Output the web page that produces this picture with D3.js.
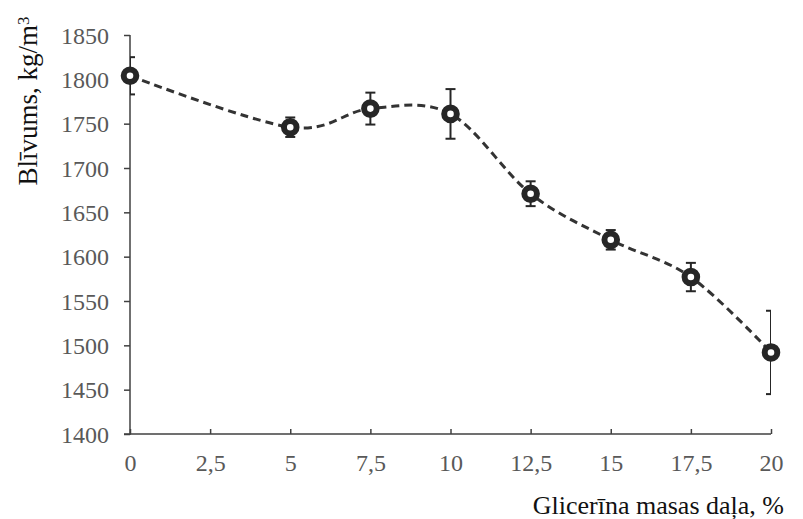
<!DOCTYPE html>
<html>
<head>
<meta charset="utf-8">
<script src="https://cdn.jsdelivr.net/npm/d3@7"></script>
<style>
  body { margin: 0; background: #fff; }
  svg { display: block; font-family: "Liberation Serif", "Times New Roman", serif; }
  .tick-label { fill: #595959; font-size: 24px; }
  .axis-title { fill: #111; font-size: 26px; }
</style>
</head>
<body>
<svg class="density-chart"></svg>
<script>
// glycerol mass fraction, %
var glycerol = [0, 5, 7.5, 10, 12.5, 15, 17.5, 20];
// density, kg/m3
var density = [1804, 1746, 1767, 1761, 1671, 1619, 1577, 1492];
// standard deviation (error bar half-length)
var deviation = [21, 11, 18, 28, 14, 11, 16, 47];

var xTicks = [0, 2.5, 5, 7.5, 10, 12.5, 15, 17.5, 20];
var yTicks = [1400, 1450, 1500, 1550, 1600, 1650, 1700, 1750, 1800, 1850];

drawDensity();

function drawDensity() {
  var margin = {top: 35, right: 32, bottom: 85, left: 130};
  var width = 803 - margin.left - margin.right;
  var height = 519 - margin.top - margin.bottom;

  var data = glycerol.map(function(g, i) {
    return {x: g, y: density[i], err: deviation[i]};
  });

  var x = d3.scaleLinear().domain([0, 20]).range([0, width]);
  var y = d3.scaleLinear().domain([1400, 1850]).range([height, 0]);

  var svg = d3.select(".density-chart")
    .attr("width", 803)
    .attr("height", 519);

  svg.append("defs").append("clipPath")
    .attr("id", "plot-clip")
    .append("rect")
    .attr("x", 0)
    .attr("y", -30)
    .attr("width", width)
    .attr("height", height + 60);

  var chart = svg.append("g")
    .attr("transform", "translate(" + margin.left + "," + margin.top + ")");

  // y axis
  var yAxis = chart.append("g")
    .call(d3.axisLeft(y).tickValues(yTicks).tickSize(6).tickFormat(d3.format("d")));
  yAxis.select(".domain").attr("stroke", "#404040").attr("stroke-width", 1.5)
    .attr("d", "M0," + (height + 1) + "V0");
  yAxis.selectAll(".tick line").attr("stroke", "#404040").attr("stroke-width", 1.5);
  yAxis.selectAll(".tick text").attr("class", "tick-label").attr("x", -21).attr("dy", "0.34em");

  // x axis, ticks pointing up
  var xAxis = chart.append("g")
    .attr("transform", "translate(0," + height + ")")
    .call(d3.axisBottom(x).tickValues(xTicks).tickSize(-5)
      .tickFormat(function(d) { return String(d).replace(".", ","); }));
  xAxis.select(".domain").attr("stroke", "#404040").attr("stroke-width", 1.5)
    .attr("d", "M-6,0H" + width);
  xAxis.selectAll(".tick line").attr("stroke", "#404040").attr("stroke-width", 1.5);
  xAxis.selectAll(".tick text").attr("class", "tick-label").attr("y", 20).attr("dy", "0.71em");
  yAxis.attr("font-size", null).attr("font-family", null);
  xAxis.attr("font-size", null).attr("font-family", null);

  var plot = chart.append("g").attr("clip-path", "url(#plot-clip)");

  // smoothed dashed line
  var valueline = d3.line()
    .curve(d3.curveCardinal.tension(0))
    .x(function(d) { return x(d.x); })
    .y(function(d) { return y(d.y); });

  plot.append("path")
    .datum(data)
    .attr("fill", "none")
    .attr("stroke", "#333")
    .attr("stroke-width", 3)
    .attr("stroke-dasharray", "8,5")
    .attr("d", valueline);

  // error bars
  var bars = plot.selectAll(".err")
    .data(data)
    .enter().append("g")
    .attr("class", "err")
    .attr("stroke", "#262626")
    .attr("stroke-width", 2);

  bars.append("line")
    .attr("x1", function(d) { return x(d.x); })
    .attr("x2", function(d) { return x(d.x); })
    .attr("y1", function(d) { return y(d.y + d.err); })
    .attr("y2", function(d) { return y(d.y - d.err); });
  bars.append("line")
    .attr("x1", function(d) { return x(d.x) - 5; })
    .attr("x2", function(d) { return x(d.x) + 5; })
    .attr("y1", function(d) { return y(d.y + d.err); })
    .attr("y2", function(d) { return y(d.y + d.err); });
  bars.append("line")
    .attr("x1", function(d) { return x(d.x) - 5; })
    .attr("x2", function(d) { return x(d.x) + 5; })
    .attr("y1", function(d) { return y(d.y - d.err); })
    .attr("y2", function(d) { return y(d.y - d.err); });

  // markers
  chart.selectAll(".marker")
    .data(data)
    .enter().append("circle")
    .attr("class", "marker")
    .attr("cx", function(d) { return x(d.x); })
    .attr("cy", function(d) { return y(d.y); })
    .attr("r", 6.3)
    .attr("fill", "#fff")
    .attr("stroke", "#262626")
    .attr("stroke-width", 6);

  // axis titles
  svg.append("text")
    .attr("class", "axis-title")
    .attr("x", 784)
    .attr("y", 514)
    .attr("text-anchor", "end")
    .text("Glicerīna masas daļa, %");

  var ytitle = svg.append("text")
    .attr("class", "axis-title")
    .attr("transform", "translate(37,101) rotate(-90)")
    .attr("text-anchor", "middle")
    .style("font-size", "27px");
  ytitle.append("tspan").text("Blīvums, kg/m");
  ytitle.append("tspan").attr("dy", "-0.45em").style("font-size", "17px").text("3");
}
</script>
</body>
</html>
